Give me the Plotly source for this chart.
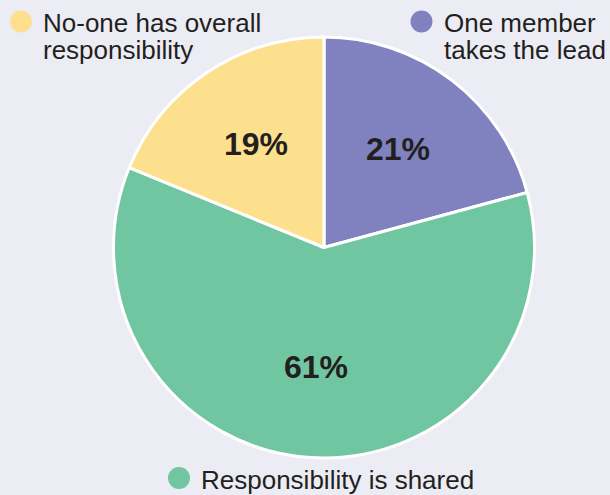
import math
import plotly.graph_objects as go

# Survey answers: who is responsible
categories = ["One member takes the lead", "Responsibility is shared", "No-one has overall responsibility"]
shares = [21, 61, 19]
colors = ["#8082C0", "#70C6A0", "#FDE08E"]

W, H = 610, 495
BG = "#ECECF4"
INK = "#231F20"
FONT = "Liberation Sans, Arial, Helvetica, sans-serif"

# Pie placement in pixels (centre and outer radius)
CX, CY, R = 324, 247.5, 210.5

fig = go.Figure()
fig.add_trace(go.Pie(
    labels=categories,
    values=shares,
    sort=False,
    direction="clockwise",
    rotation=0,
    marker=dict(colors=colors, line=dict(color="white", width=3)),
    textinfo="none",
    hoverinfo="label+value",
    showlegend=False,
    domain=dict(x=[(CX - R) / W, (CX + R) / W], y=[1 - (CY + R) / H, 1 - (CY - R) / H]),
))


def px(x):
    return x / W


def py(y):
    return 1 - y / H


annotations = []

# Percentage labels, placed along each slice's middle angle
total = sum(shares)
start = 0.0
for v in shares:
    mid = (start + v / 2) / total * 2 * math.pi
    start += v
    lx = CX + 0.58 * R * math.sin(mid)
    ly = CY - 0.58 * R * math.cos(mid)
    annotations.append(dict(
        x=px(lx), y=py(ly - 2), xref="paper", yref="paper",
        xanchor="center", yanchor="middle", showarrow=False,
        text=f"<b>{v}%</b>", font=dict(family=FONT, size=32, color=INK),
    ))

# Legend keys: a dot followed by one or two lines of text
legend_items = [
    (21, 21.5, 2, colors[2], ["No-one has overall", "responsibility"]),
    (421.5, 21.5, 2, colors[0], ["One member", "takes the lead"]),
    (179, 478, 1.5, colors[1], ["Responsibility is shared"]),
]
r = 11
shapes = []
for cx, cy, dy, col, lines in legend_items:
    shapes.append(dict(type="circle", xref="paper", yref="paper",
                       x0=px(cx - r), x1=px(cx + r), y0=py(cy + r), y1=py(cy - r),
                       fillcolor=col, line=dict(width=0)))
    for i, line in enumerate(lines):
        annotations.append(dict(
            x=px(cx + 20), y=py(cy + dy + i * 27), xref="paper", yref="paper",
            xanchor="left", yanchor="middle", showarrow=False,
            text=line, font=dict(family=FONT, size=26, color=INK),
        ))

fig.update_layout(
    width=W, height=H,
    margin=dict(l=0, r=0, t=0, b=0),
    paper_bgcolor=BG, plot_bgcolor=BG,
    shapes=shapes, annotations=annotations,
)

fig.write_html("out.html")
